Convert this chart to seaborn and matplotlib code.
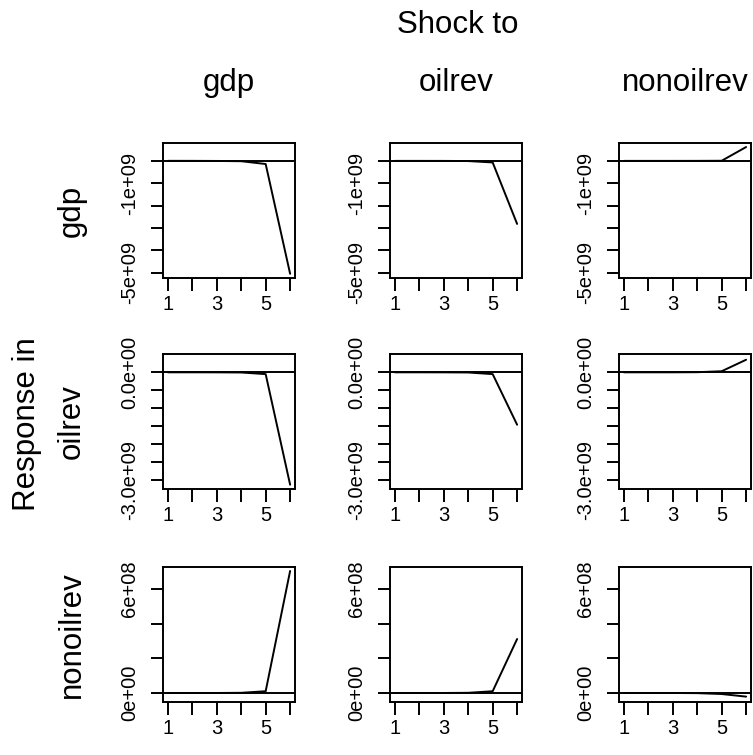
import numpy as np
import pandas as pd
import matplotlib
matplotlib.use("Agg")
import matplotlib.pyplot as plt
import seaborn as sns
from matplotlib.ticker import FixedLocator, FixedFormatter

# ---------------- data ----------------
variables = ["gdp", "oilrev", "nonoilrev"]
horizon = [1, 2, 3, 4, 5, 6]

# response of gdp to shocks in gdp / oilrev / nonoilrev
gdp_to_gdp = [2e6, 1e6, -3e6, -1.5e7, -1.4e8, -5.05e9]
gdp_to_oilrev = [0.0, 0.0, -1e6, -8e6, -7e7, -2.82e9]
gdp_to_nonoilrev = [0.0, 0.0, 0.0, 1e6, 5e6, 6.2e8]
# response of oilrev
oilrev_to_gdp = [0.0, 0.0, -1e6, -5e6, -5e7, -3.13e9]
oilrev_to_oilrev = [0.0, 0.0, -1e6, -5e6, -5e7, -1.46e9]
oilrev_to_nonoilrev = [0.0, 0.0, 0.0, 3e6, 3e7, 3.5e8]
# response of nonoilrev
nonoilrev_to_gdp = [0.0, 0.0, 0.0, 1e6, 1e7, 7.03e8]
nonoilrev_to_oilrev = [0.0, 0.0, 0.0, 1e6, 1e7, 3.11e8]
nonoilrev_to_nonoilrev = [0.0, 0.0, 0.0, -1e6, -6e6, -2.1e7]

responses = {
    ("gdp", "gdp"): gdp_to_gdp,
    ("gdp", "oilrev"): gdp_to_oilrev,
    ("gdp", "nonoilrev"): gdp_to_nonoilrev,
    ("oilrev", "gdp"): oilrev_to_gdp,
    ("oilrev", "oilrev"): oilrev_to_oilrev,
    ("oilrev", "nonoilrev"): oilrev_to_nonoilrev,
    ("nonoilrev", "gdp"): nonoilrev_to_gdp,
    ("nonoilrev", "oilrev"): nonoilrev_to_oilrev,
    ("nonoilrev", "nonoilrev"): nonoilrev_to_nonoilrev,
}

# y-axis ticks and labels per response row
row_ticks = {
    "gdp": [0.0, -1e9, -2e9, -3e9, -4e9, -5e9],
    "oilrev": [0.0, -0.5e9, -1e9, -1.5e9, -2e9, -2.5e9, -3e9],
    "nonoilrev": [0.0, 2e8, 4e8, 6e8],
}
row_ticklabels = {
    "gdp": ["", "-1e+09", "", "", "", "-5e+09"],
    "oilrev": ["0.0e+00", "", "", "", "", "", "-3.0e+09"],
    "nonoilrev": ["0e+00", "", "", "6e+08"],
}
x_ticklabels = ["1", "", "3", "", "5", ""]

rows = []
for (resp, imp), vals in responses.items():
    for h, v in zip(horizon, vals):
        rows.append({"response": resp, "impulse": imp, "horizon": h, "value": v})
df = pd.DataFrame(rows)

# ---------------- layout ----------------
sns.set_style("white")
plt.rcParams["font.family"] = ["Liberation Sans", "DejaVu Sans"]
plt.rcParams["text.color"] = "black"

W, H = 753, 755
fig = plt.figure(figsize=(W / 100, H / 100), dpi=100)

col_left = [163, 390, 619]
row_top = [143, 354, 567]
box_w, box_h = 132, 135
row_ylim = {
    "gdp": (-5.24e9, 0.80e9),
    "oilrev": (-3.25e9, 0.51e9),
    "nonoilrev": (-0.52e8, 7.26e8),
}

LW = 1.4
for i, resp in enumerate(variables):
    for j, imp in enumerate(variables):
        ax = fig.add_axes([col_left[j] / W, 1 - (row_top[i] + box_h) / H, box_w / W, box_h / H])
        sub = df[(df.response == resp) & (df.impulse == imp)]
        sns.lineplot(data=sub, x="horizon", y="value", ax=ax, color="black", linewidth=LW)
        ax.axhline(0, color="black", linewidth=LW)
        ax.set_xlim(0.8, 6.2)
        ax.set_ylim(*row_ylim[resp])
        ax.set_xlabel("")
        ax.set_ylabel("")
        ax.xaxis.set_major_locator(FixedLocator(horizon))
        ax.xaxis.set_major_formatter(FixedFormatter(x_ticklabels))
        ax.yaxis.set_major_locator(FixedLocator(row_ticks[resp]))
        ax.yaxis.set_major_formatter(FixedFormatter(row_ticklabels[resp]))
        ax.tick_params(axis="both", direction="out", length=9, width=LW, color="black",
                       labelsize=14.5, labelcolor="black")
        ax.tick_params(axis="x", pad=3, bottom=True)
        ax.tick_params(axis="y", pad=8, left=True)
        for lab in ax.get_yticklabels():
            lab.set_rotation(90)
            lab.set_va("center")
        for s in ax.spines.values():
            s.set_visible(True)
            s.set_color("black")
            s.set_linewidth(LW)
        ax.grid(False)

# titles
TS = 22.5
fig.text(458 / W, 1 - 25 / H, "Shock to", ha="center", va="center", fontsize=TS)
for j, imp in enumerate(variables):
    fig.text((col_left[j] + box_w / 2) / W, 1 - 83 / H, imp, ha="center", va="center", fontsize=TS)
fig.text(27 / W, 1 - 424 / H, "Response in", ha="center", va="center", rotation=90, fontsize=TS)
for i, resp in enumerate(variables):
    fig.text(72 / W, 1 - (row_top[i] + box_h / 2) / H, resp, ha="center", va="center",
             rotation=90, fontsize=TS)

fig.savefig("out.png", dpi=100, facecolor="white")
